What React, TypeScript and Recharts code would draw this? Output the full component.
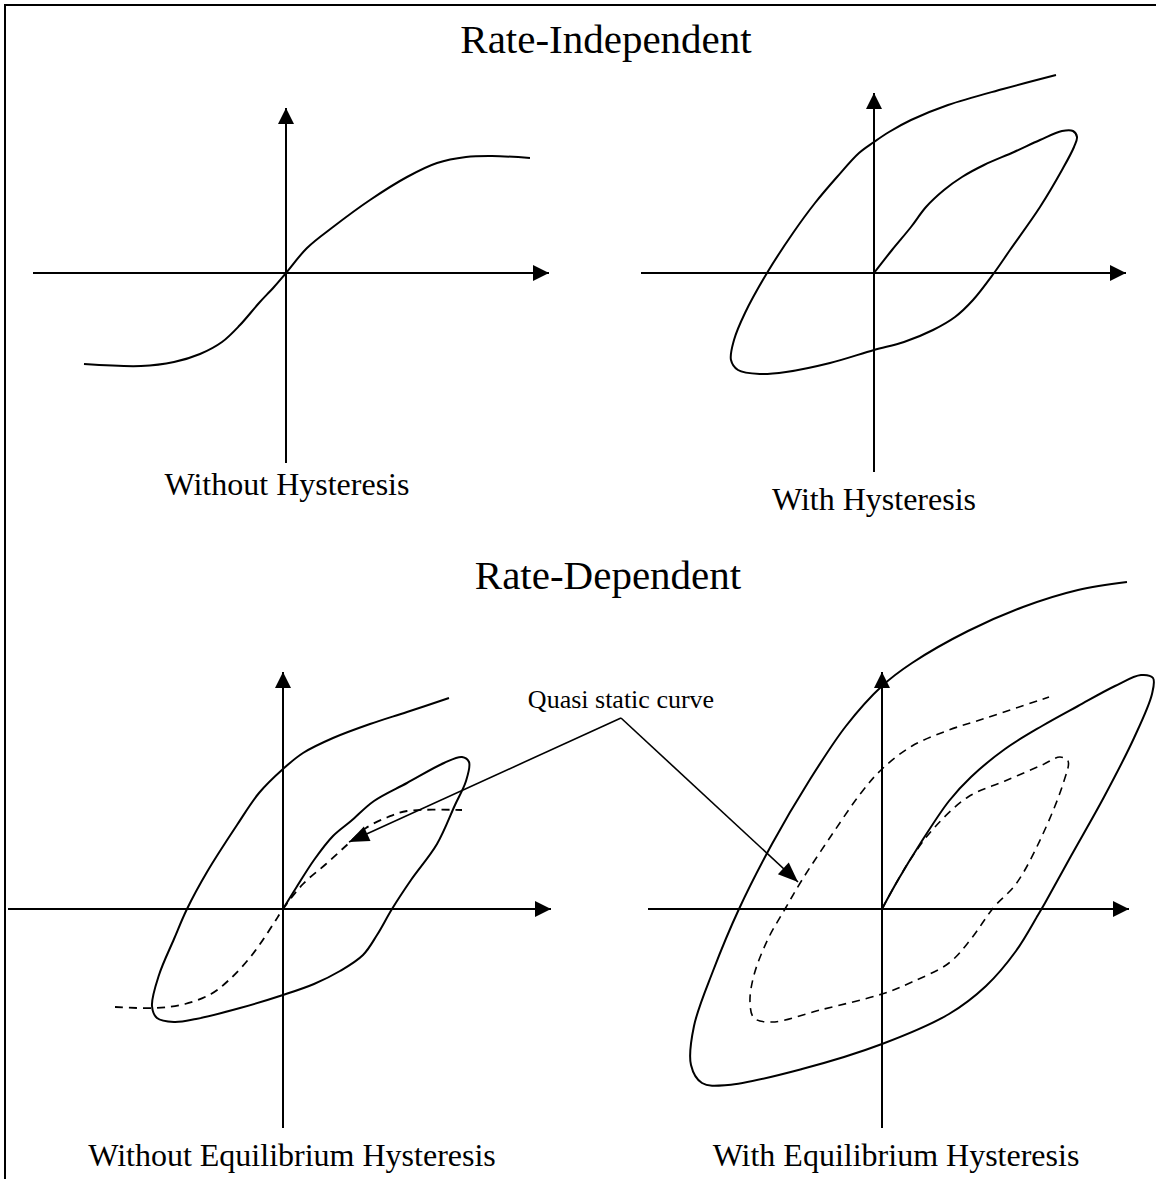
import { ComposedChart, Line, XAxis, YAxis } from "recharts";

type Pt = { x: number; y: number };
const toPts = (arr: number[][]): Pt[] => arr.map(([x, y]) => ({ x, y }));

// all curves are in panel units (origin = axis crossing, y up)

// top-left: rate-independent, no hysteresis
const anhysteretic = toPts([
  [-2.02, -0.91], [-1.45, -0.93], [-1.12, -0.89], [-0.86, -0.81], [-0.64, -0.69],
  [-0.46, -0.52], [-0.27, -0.3], [-0.12, -0.14], [0, 0], [0.21, 0.25], [0.47, 0.46],
  [0.84, 0.73], [1.21, 0.96], [1.51, 1.1], [1.8, 1.16], [2.06, 1.17], [2.44, 1.15],
]);

// top-right: rate-independent loop
const riLoop = toPts([
  [0, 0], [0.18, 0.23], [0.37, 0.46], [0.52, 0.66], [0.7, 0.83], [0.88, 0.96], [1.1, 1.08],
  [1.4, 1.21], [1.66, 1.33], [1.88, 1.42], [1.99, 1.42], [2.03, 1.36], [2.0, 1.26],
  [1.88, 1.03], [1.66, 0.66], [1.36, 0.23], [1.2, 0], [0.99, -0.27], [0.81, -0.44],
  [0.59, -0.57], [0.3, -0.69], [0, -0.77], [-0.44, -0.9], [-0.88, -0.99], [-1.14, -1.01],
  [-1.36, -0.97], [-1.43, -0.87], [-1.4, -0.67], [-1.29, -0.4], [-1.07, 0], [-0.81, 0.4],
  [-0.59, 0.7], [-0.37, 0.96], [-0.15, 1.2], [0, 1.31], [0.15, 1.41], [0.37, 1.53],
  [0.74, 1.68], [1.29, 1.84], [1.82, 1.98],
]);

// bottom-left: rate-dependent loop without equilibrium hysteresis
const rdLoopSmall = toPts([
  [0, 0], [0.13, 0.21], [0.31, 0.49], [0.5, 0.73], [0.68, 0.88], [0.91, 1.08], [1.24, 1.26],
  [1.61, 1.46], [1.79, 1.52], [1.86, 1.47], [1.83, 1.28], [1.72, 1.04], [1.54, 0.65],
  [1.28, 0.29], [1.09, 0], [0.94, -0.26], [0.8, -0.46], [0.57, -0.62], [0.31, -0.75],
  [0, -0.86], [-0.43, -0.99], [-0.87, -1.1], [-1.09, -1.13], [-1.26, -1.09], [-1.31, -0.97],
  [-1.24, -0.66], [-1.09, -0.3], [-0.96, 0], [-0.76, 0.37], [-0.46, 0.84], [-0.24, 1.16],
  [0, 1.4], [0.2, 1.56], [0.5, 1.71], [0.87, 1.85], [1.24, 1.97], [1.66, 2.11],
]);
const quasiStaticSmall = toPts([
  [-1.68, -0.98], [-1.28, -0.99], [-0.98, -0.95], [-0.72, -0.85], [-0.54, -0.71],
  [-0.31, -0.46], [-0.09, -0.14], [0, 0], [0.2, 0.25], [0.43, 0.45], [0.65, 0.65],
  [0.83, 0.81], [1.05, 0.92], [1.24, 0.98], [1.79, 0.99],
]);

// bottom-right: rate-dependent loop with equilibrium hysteresis
const rdLoopLarge = toPts([
  [0, 0], [0.16, 0.29], [0.38, 0.65], [0.67, 1.08], [0.89, 1.32], [1.23, 1.6], [1.6, 1.83],
  [1.96, 2.03], [2.33, 2.23], [2.59, 2.34], [2.71, 2.31], [2.7, 2.15], [2.52, 1.71],
  [2.22, 1.12], [1.89, 0.53], [1.63, 0.06], [1.56, -0.06], [1.34, -0.42], [1.04, -0.77],
  [0.67, -1.05], [0, -1.35], [-0.8, -1.6], [-1.54, -1.76], [-1.8, -1.74], [-1.91, -1.56],
  [-1.88, -1.17], [-1.69, -0.62], [-1.43, 0], [-1.1, 0.65], [-0.73, 1.28], [-0.36, 1.83],
  [0, 2.23], [0.3, 2.46], [0.86, 2.78], [1.41, 3.02], [1.96, 3.19], [2.45, 3.27],
]);
const quasiStaticLoop = toPts([
  [0, 0], [0.16, 0.29], [0.3, 0.52], [0.52, 0.81], [0.86, 1.12], [1.23, 1.28], [1.6, 1.44],
  [1.78, 1.52], [1.86, 1.48], [1.82, 1.28], [1.6, 0.73], [1.34, 0.25], [1.12, 0.02],
  [0.89, -0.3], [0.67, -0.54], [0.3, -0.73], [0, -0.85], [-0.62, -1.01], [-1.1, -1.13],
  [-1.28, -1.09], [-1.32, -0.93], [-1.28, -0.66], [-1.14, -0.3], [-0.97, 0], [-0.8, 0.29],
  [-0.51, 0.73], [-0.21, 1.16], [0, 1.4], [0.3, 1.63], [0.67, 1.79], [1.04, 1.91], [1.67, 2.12],
]);

// leader lines of the "Quasi static curve" note, in bottom-left panel units
const leaderLeft = toPts([[3.38, 1.91], [0.66, 0.67]]);
const leaderRight = toPts([[3.38, 1.91], [5.15, 0.27]]);

const titles = ["Rate-Independent", "Rate-Dependent"];
const captions = [
  "Without Hysteresis",
  "With Hysteresis",
  "Without Equilibrium Hysteresis",
  "With Equilibrium Hysteresis",
];
const noteText = "Quasi static curve";

const UNIT = 100; // px per panel unit
const FONT = '"Liberation Serif", "Times New Roman", serif';

// centripetal catmull-rom, so the hand-read points give a smooth pen stroke
const catmullRom = (context: any) => {
  let pts: number[][] = [];
  const dist = (a: number[], b: number[]) => Math.hypot(a[0] - b[0], a[1] - b[1]);
  return {
    areaStart() {},
    areaEnd() {},
    lineStart() {
      pts = [];
    },
    point(x: number, y: number) {
      pts.push([+x, +y]);
    },
    lineEnd() {
      const n = pts.length;
      if (!n) return;
      context.moveTo(pts[0][0], pts[0][1]);
      for (let i = 0; i < n - 1; i++) {
        const p0 = pts[Math.max(i - 1, 0)], p1 = pts[i], p2 = pts[i + 1], p3 = pts[Math.min(i + 2, n - 1)];
        const l01 = Math.sqrt(dist(p0, p1)), l12 = Math.sqrt(dist(p1, p2)), l23 = Math.sqrt(dist(p2, p3));
        let c1 = p1, c2 = p2;
        if (l01 > 1e-6) {
          const a = 2 * l01 * l01 + 3 * l01 * l12 + l12 * l12;
          const m = 3 * l01 * (l01 + l12);
          c1 = [0, 1].map((k) => (p1[k] * a - p0[k] * l12 * l12 + p2[k] * l01 * l01) / m);
        }
        if (l23 > 1e-6) {
          const b = 2 * l23 * l23 + 3 * l23 * l12 + l12 * l12;
          const m = 3 * l23 * (l23 + l12);
          c2 = [0, 1].map((k) => (p2[k] * b + p1[k] * l23 * l23 - p3[k] * l12 * l12) / m);
        }
        context.bezierCurveTo(c1[0], c1[1], c2[0], c2[1], p2[0], p2[1]);
      }
    },
  };
};

type Series = { data: Pt[]; dashed?: boolean; width?: number; arrow?: [number, number] };

const arrowHead = (data: Pt[], len: number, half: number) => (props: any) => {
  const { cx, cy, index } = props;
  if (index !== data.length - 1 || cx == null) return <g key={`d${index}`} />;
  const a = data[data.length - 2];
  const b = data[data.length - 1];
  const ang = Math.atan2(-(b.y - a.y), b.x - a.x);
  const c = Math.cos(ang), s = Math.sin(ang);
  const bx = cx - len * c, by = cy - len * s;
  const pts = [
    [cx, cy],
    [bx - half * s, by + half * c],
    [bx + half * s, by - half * c],
  ].map((p) => p.join(",")).join(" ");
  return <polygon key={`d${index}`} points={pts} fill="#000" stroke="none" />;
};

type PanelProps = {
  origin: [number, number];
  xDomain: [number, number];
  yDomain: [number, number];
  xAxis: [number, number];
  yAxis: [number, number];
  series: Series[];
};

const Panel = ({ origin, xDomain, yDomain, xAxis, yAxis, series }: PanelProps) => {
  const width = (xDomain[1] - xDomain[0]) * UNIT;
  const height = (yDomain[1] - yDomain[0]) * UNIT;
  const left = origin[0] + xDomain[0] * UNIT;
  const top = origin[1] - yDomain[1] * UNIT;
  const xLine = [{ x: xAxis[0], y: 0 }, { x: xAxis[1], y: 0 }];
  const yLine = [{ x: 0, y: yAxis[0] }, { x: 0, y: yAxis[1] }];
  const all: Series[] = [
    { data: xLine, arrow: [16, 8] },
    { data: yLine, arrow: [16, 8] },
    ...series,
  ];
  return (
    <div style={{ position: "absolute", left, top }}>
      <ComposedChart width={width} height={height} margin={{ top: 0, right: 0, bottom: 0, left: 0 }}>
        <XAxis type="number" dataKey="x" domain={xDomain} hide allowDataOverflow />
        <YAxis type="number" dataKey="y" domain={yDomain} hide allowDataOverflow />
        {all.map((s, i) => (
          <Line
            key={i}
            data={s.data}
            dataKey="y"
            type={s.data.length > 2 ? (catmullRom as any) : "linear"}
            stroke="#000"
            strokeWidth={s.width ?? 2}
            strokeDasharray={s.dashed ? "8 6" : undefined}
            dot={s.arrow ? arrowHead(s.data, s.arrow[0], s.arrow[1]) : false}
            activeDot={false}
            isAnimationActive={false}
          />
        ))}
      </ComposedChart>
    </div>
  );
};

export default function App() {
  return (
    <div style={{ position: "absolute", left: 0, top: 0, width: 1156, height: 1179, background: "#fff" }}>
      <Panel
        origin={[286, 273]}
        xDomain={[-2.6, 2.7]}
        yDomain={[-2.0, 1.7]}
        xAxis={[-2.53, 2.63]}
        yAxis={[-1.9, 1.65]}
        series={[{ data: anhysteretic }]}
      />
      <Panel
        origin={[874, 273]}
        xDomain={[-2.4, 2.6]}
        yDomain={[-2.05, 2.05]}
        xAxis={[-2.33, 2.52]}
        yAxis={[-1.99, 1.8]}
        series={[{ data: riLoop }]}
      />
      <Panel
        origin={[882, 909]}
        xDomain={[-2.4, 2.8]}
        yDomain={[-2.25, 3.35]}
        xAxis={[-2.34, 2.47]}
        yAxis={[-2.19, 2.37]}
        series={[{ data: rdLoopLarge }, { data: quasiStaticLoop, dashed: true, width: 1.6 }]}
      />
      <Panel
        origin={[283, 909]}
        xDomain={[-2.8, 5.3]}
        yDomain={[-2.25, 2.45]}
        xAxis={[-2.75, 2.68]}
        yAxis={[-2.19, 2.37]}
        series={[
          { data: rdLoopSmall },
          { data: quasiStaticSmall, dashed: true, width: 1.8 },
          { data: leaderLeft, width: 1.6, arrow: [20, 8] },
          { data: leaderRight, width: 1.6, arrow: [20, 8] },
        ]}
      />
      <svg width={1156} height={1179} style={{ position: "absolute", left: 0, top: 0, pointerEvents: "none" }}>
        <line x1={4} y1={5} x2={1156} y2={5} stroke="#000" strokeWidth={2} />
        <line x1={5} y1={4} x2={5} y2={1179} stroke="#000" strokeWidth={2} />
        <g fontFamily={FONT} fill="#000" textAnchor="middle">
          <text x={606} y={53} fontSize={41}>{titles[0]}</text>
          <text x={608} y={589} fontSize={41}>{titles[1]}</text>
          <text x={287} y={495} fontSize={32}>{captions[0]}</text>
          <text x={874} y={510} fontSize={32}>{captions[1]}</text>
          <text x={292} y={1166} fontSize={32}>{captions[2]}</text>
          <text x={896} y={1166} fontSize={32}>{captions[3]}</text>
          <text x={621} y={708} fontSize={26}>{noteText}</text>
        </g>
      </svg>
    </div>
  );
}
